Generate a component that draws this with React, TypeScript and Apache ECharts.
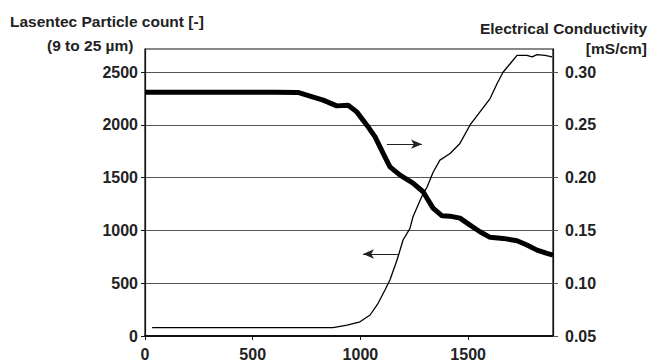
import React, { useEffect, useRef } from "react";
import * as echarts from "echarts";

const particleTime = [0, 100, 200, 300, 400, 500, 600, 710, 766, 827, 890, 943, 983, 1030, 1068, 1105, 1137, 1184, 1244, 1291, 1337, 1379, 1416, 1462, 1509, 1555, 1602, 1662, 1727, 1773, 1820, 1866, 1894];
const particleCount = [2310, 2310, 2310, 2310, 2310, 2310, 2310, 2308, 2273, 2235, 2181, 2187, 2124, 1998, 1887, 1733, 1603, 1525, 1449, 1367, 1212, 1139, 1136, 1117, 1051, 988, 935, 925, 903, 862, 814, 783, 767];

const condTime = [33, 200, 400, 600, 873, 938, 998, 1045, 1082, 1114, 1137, 1170, 1198, 1230, 1244, 1291, 1309, 1337, 1369, 1416, 1462, 1509, 1555, 1602, 1634, 1662, 1695, 1727, 1773, 1797, 1820, 1857, 1890];
const conductivity = [0.058, 0.058, 0.058, 0.058, 0.058, 0.0604, 0.0635, 0.0699, 0.081, 0.0936, 0.103, 0.122, 0.141, 0.152, 0.163, 0.185, 0.191, 0.205, 0.2167, 0.223, 0.2325, 0.25, 0.2624, 0.275, 0.289, 0.3, 0.308, 0.316, 0.316, 0.3145, 0.3167, 0.316, 0.3145];

const leftTicks = [0, 500, 1000, 1500, 2000, 2500];
const rightTicks = [0.05, 0.1, 0.15, 0.2, 0.25, 0.3];
const xTicks = [0, 500, 1000, 1500];

// arrows: [x1, y1, x2, y2] in left-axis units
const arrowRight = [1123, 1818, 1286, 1818];
const arrowLeft = [1175, 777, 1012, 777];

const FONT = '"Liberation Sans", Arial, sans-serif';
const TXT = "#222";

export default function App() {
  const ref = useRef<HTMLDivElement>(null);
  useEffect(() => {
    if (!ref.current) return;
    const chart = echarts.init(ref.current, null, { renderer: "svg" });
    const arrowMark = (a: number[]) => [
      { coord: [a[0], a[1]], symbol: "none" },
      { coord: [a[2], a[3]], symbol: "arrow" },
    ];
    const labelBase = { color: TXT, fontSize: 16, fontWeight: "bold", fontFamily: FONT };
    const titleFont = `bold 15.5px ${FONT}`;
    chart.setOption({
      animation: false,
      backgroundColor: "#fff",
      textStyle: { fontFamily: FONT },
      grid: {
        left: 145,
        right: 101,
        top: 49,
        bottom: 27,
        show: true,
        borderColor: "#111",
        borderWidth: 1.2,
        backgroundColor: "transparent",
      },
      graphic: [
        { type: "text", left: 10, top: 13, style: { text: "Lasentec Particle count [-]", font: titleFont, fill: TXT } },
        { type: "text", left: 47, top: 37, style: { text: "(9 to 25 \u00b5m)", font: titleFont, fill: TXT } },
        { type: "text", right: 7, top: 20, style: { text: "Electrical Conductivity", font: titleFont, fill: TXT } },
        { type: "text", right: 7, top: 40, style: { text: "[mS/cm]", font: titleFont, fill: TXT } },
      ],
      xAxis: {
        type: "value",
        min: 0,
        max: 1894,
        interval: 500,
        axisLine: { show: true, lineStyle: { color: "#111", width: 2 } },
        axisTick: { show: true, length: 4, lineStyle: { color: "#111" }, customValues: xTicks },
        axisLabel: { ...labelBase, customValues: xTicks, margin: 10, formatter: (v: number) => String(v) },
        splitLine: { show: false },
      },
      yAxis: [
        {
          type: "value",
          min: 0,
          max: 2720,
          interval: 500,
          position: "left",
          axisLine: { show: true, lineStyle: { color: "#111", width: 1.2 } },
          axisTick: { show: true, length: 4, lineStyle: { color: "#111" }, customValues: leftTicks },
          axisLabel: { ...labelBase, customValues: leftTicks, margin: 7, formatter: (v: number) => String(v) },
          splitLine: { show: true, lineStyle: { color: "#555", width: 1.2 } },
        },
        {
          type: "value",
          min: 0.05,
          max: 0.322,
          interval: 0.05,
          position: "right",
          axisLine: { show: true, lineStyle: { color: "#111", width: 1.2 } },
          axisTick: { show: true, length: 5, lineStyle: { color: "#555" }, customValues: rightTicks },
          axisLabel: { ...labelBase, customValues: rightTicks, margin: 12, formatter: (v: number) => v.toFixed(2) },
          splitLine: { show: false },
        },
      ],
      series: [
        {
          type: "line",
          name: "Particle count",
          yAxisIndex: 0,
          data: particleTime.map((t, i) => [t, particleCount[i]]),
          showSymbol: false,
          lineStyle: { color: "#000", width: 5 },
          markLine: {
            silent: true,
            symbolSize: [7, 11],
            lineStyle: { color: "#222", width: 1.2, type: "solid" },
            label: { show: false },
            emphasis: { disabled: true },
            data: [arrowMark(arrowRight), arrowMark(arrowLeft)],
          },
        },
        {
          type: "line",
          name: "Conductivity",
          yAxisIndex: 1,
          data: condTime.map((t, i) => [t, conductivity[i]]),
          showSymbol: false,
          lineStyle: { color: "#000", width: 1.3 },
        },
      ],
    });
    return () => chart.dispose();
  }, []);
  return <div ref={ref} style={{ position: "absolute", left: 0, top: 0, width: 654, height: 363 }} />;
}
